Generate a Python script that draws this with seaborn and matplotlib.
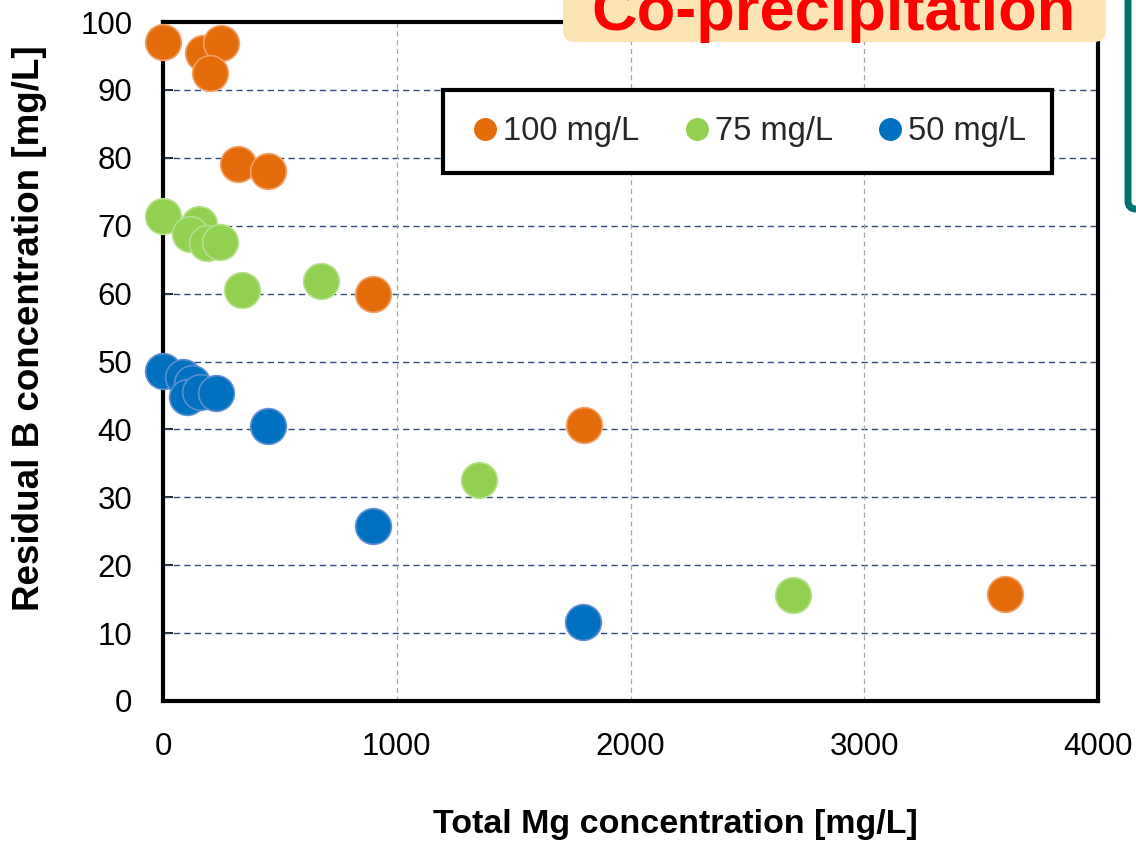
import numpy as np
import pandas as pd
import matplotlib
matplotlib.use("Agg")
import matplotlib.pyplot as plt
from matplotlib.lines import Line2D
from matplotlib.patches import FancyBboxPatch
from matplotlib.transforms import IdentityTransform
import seaborn as sns

# Initial B concentration series
series_labels = ["100 mg/L", "75 mg/L", "50 mg/L"]
series_colors = ["#E46C0A", "#92D050", "#0070C0"]
edge_colors = ["#F0A066", "#B4E08E", "#5B8FD2"]

# Total Mg concentration [mg/L] and residual B concentration [mg/L]
mg_100 = [0, 170, 250, 200, 320, 450, 900, 1800, 3600]
b_100 = [97.1, 95.4, 96.9, 92.5, 79.1, 78.1, 60.0, 40.7, 15.7]

mg_75 = [0, 154, 116, 188, 244, 338, 676, 1352, 2696]
b_75 = [71.5, 70.3, 68.8, 67.5, 67.6, 60.6, 61.9, 32.6, 15.6]

mg_50 = [0, 86, 124, 103, 158, 227, 449, 899, 1797]
b_50 = [48.6, 47.7, 46.9, 44.8, 45.5, 45.4, 40.5, 25.8, 11.7]

x_ticks = [0, 1000, 2000, 3000, 4000]
y_ticks = list(range(0, 101, 10))

frames = []
for lab, xs, ys in zip(series_labels, [mg_100, mg_75, mg_50], [b_100, b_75, b_50]):
    frames.append(pd.DataFrame({"mg": xs, "b": ys, "series": lab}))
df = pd.concat(frames, ignore_index=True)

sns.set_theme(style="white")
plt.rcParams["font.family"] = ["Liberation Sans", "DejaVu Sans"]

W, H = 1136, 844
fig = plt.figure(figsize=(W / 100, H / 100), dpi=100)
ax = fig.add_axes([163 / W, 1 - 701 / H, (1098 - 163) / W, (701 - 22) / H])

# grid lines
for yv in y_ticks[1:-1]:
    ax.axhline(yv, color="#2E4A78", lw=1.0, ls=(0, (4.5, 3)), zorder=1)
for xv in x_ticks[1:-1]:
    ax.axvline(xv, color="#A6A6A6", lw=0.9, ls=(0, (4, 3)), zorder=1)

for lab, fc, ec in zip(series_labels, series_colors, edge_colors):
    sub = df[df["series"] == lab]
    sns.scatterplot(data=sub, x="mg", y="b", ax=ax, color=fc, edgecolor=ec,
                    linewidth=1.2, s=660, zorder=3, legend=False, clip_on=False)

ax.set_xlim(0, 4000)
ax.set_ylim(0, 100)
ax.set_xticks(x_ticks)
ax.set_yticks(y_ticks)
ax.tick_params(axis="y", direction="in", length=7, width=1.2, color="black",
               labelsize=22.5, pad=22, left=True)
ax.tick_params(axis="x", length=0, labelsize=22.5, pad=22, bottom=False)
for lbl in ax.get_xticklabels() + ax.get_yticklabels():
    lbl.set_color("black")

for sp in ax.spines.values():
    sp.set_color("black")
    sp.set_linewidth(3.0)
    sp.set_visible(True)

ax.set_xlabel("")
ax.set_ylabel("")
fig.text(675 / W, 1 - 824 / H, "Total Mg concentration [mg/L]", ha="center",
         va="center", fontsize=24.5, fontweight="bold", color="black")
fig.text(30 / W, 1 - 328 / H, "Residual B concentration [mg/L]", ha="center",
         va="center", rotation=90, fontsize=26.5, fontweight="bold", color="black")

handles = [Line2D([], [], ls="none", marker="o", markersize=15.5,
                  markerfacecolor=c, markeredgecolor=c) for c in series_colors]
leg = ax.legend(handles, series_labels, ncol=3, loc="center",
                bbox_to_anchor=(0.625, 0.8387), fontsize=23.5, frameon=True,
                fancybox=False, handletextpad=0.05, columnspacing=1.25,
                handlelength=1.0, borderpad=0.8, borderaxespad=0)
leg.get_frame().set_edgecolor("black")
leg.get_frame().set_linewidth(3.0)
leg.get_frame().set_facecolor("white")
leg.get_frame().set_alpha(1)
leg.set_zorder(5)

# title badge
badge = FancyBboxPatch((563, H - 42), 1106 - 563, 80,
                       boxstyle="round,pad=0,rounding_size=12",
                       transform=IdentityTransform(), facecolor="#FCE4B4",
                       edgecolor="none", zorder=5)
fig.add_artist(badge)
fig.text(834 / W, 1 - 30 / H, "Co-precipitation", ha="center", va="baseline",
         fontsize=45.5, fontweight="bold", color="#FF0000", zorder=6)

# side panel frame
side = FancyBboxPatch((1128, H - 209), 200, 300,
                      boxstyle="round,pad=0,rounding_size=8",
                      transform=IdentityTransform(), facecolor="white",
                      edgecolor="#00736E", linewidth=5, zorder=5)
fig.add_artist(side)

fig.savefig("out.png", dpi=100)
